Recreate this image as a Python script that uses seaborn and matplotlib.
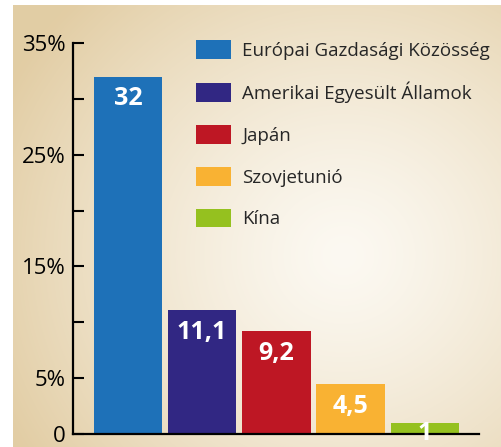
import numpy as np
import pandas as pd
import matplotlib
matplotlib.use("Agg")
import matplotlib.pyplot as plt
from matplotlib.patches import Patch
import seaborn as sns

# -----------------------------
# DATA
# -----------------------------
countries = ["Európai Gazdasági Közösség", "Amerikai Egyesült Államok",
             "Japán", "Szovjetunió", "Kína"]
shares = [32, 11.1, 9.2, 4.5, 1]
bar_labels = ["32", "11,1", "9,2", "4,5", "1"]
colors = ["#1e71b8", "#312783", "#be1724", "#f9b233", "#95c11f"]
yticks = [0, 5, 10, 15, 20, 25, 30, 35]
ytick_labels = ["0", "5%", "", "15%", "", "25%", "", "35%"]

df = pd.DataFrame({"country": countries, "share": shares})

sns.set_theme(style="white")
plt.rcParams["font.family"] = ["Open Sans", "DejaVu Sans"]

W, H = 501, 447
fig = plt.figure(figsize=(W / 100, H / 100), dpi=100)
fig.patch.set_facecolor("white")

# -----------------------------
# BACKGROUND (radial beige gradient)
# -----------------------------
bg = fig.add_axes([13 / W, 0, (W - 13) / W, (H - 5) / H], zorder=-5)
yy, xx = np.mgrid[0:442, 0:488]
cx, cy = 330, 250
d = np.sqrt(((xx - cx) / 1.0) ** 2 + ((yy - cy) / 0.95) ** 2) / 380
d = np.clip(d, 0, 1) ** 1.3
c0 = np.array([252, 249, 242]) / 255
c1 = np.array([226, 205, 164]) / 255
img = c0[None, None, :] * (1 - d[..., None]) + c1[None, None, :] * d[..., None]
bg.imshow(img, aspect="auto", interpolation="bilinear")
bg.axis("off")

# -----------------------------
# BARS
# -----------------------------
ax = fig.add_axes([73 / W, (H - 434) / H, (479 - 73) / W, (434 - 43) / H])
ax.patch.set_alpha(0)
sns.barplot(data=df, x="country", y="share", hue="country", palette=colors,
            width=0.92, saturation=1, legend=False, linewidth=0, ax=ax)
ax.set_xlim(-0.74, 4.73)
ax.set_ylim(0, 35)

# labels inside the bar tops (kept above the baseline for tiny bars)
for i, (v, lab) in enumerate(zip(shares, bar_labels)):
    ax.text(i, max(v - 2.0, 0.0), lab, ha="center", va="center",
            color="white", fontsize=18, fontweight="bold", zorder=10,
            clip_on=False)

ax.set_yticks(yticks)
ax.set_yticklabels(ytick_labels)
ax.set_xticks([])
ax.set_xlabel("")
ax.set_ylabel("")
ax.tick_params(axis="y", direction="in", length=8, width=1.5, pad=5,
               labelsize=16, colors="black", left=True)
for s in ["top", "right"]:
    ax.spines[s].set_visible(False)
for s in ["left", "bottom"]:
    ax.spines[s].set_color("black")
    ax.spines[s].set_linewidth(1.6)
    ax.spines[s].set_zorder(5)

# -----------------------------
# LEGEND
# -----------------------------
handles = [Patch(facecolor=c, edgecolor="none") for c in colors]
ax.legend(handles, countries, loc="upper left",
          bbox_to_anchor=(196 / W, 1 - 40 / H), bbox_transform=fig.transFigure,
          frameon=False, fontsize=13.5, handlelength=1.87, handleheight=1.17,
          labelspacing=1.17, handletextpad=0.6, borderpad=0, borderaxespad=0)

fig.savefig("out.png", dpi=100)
